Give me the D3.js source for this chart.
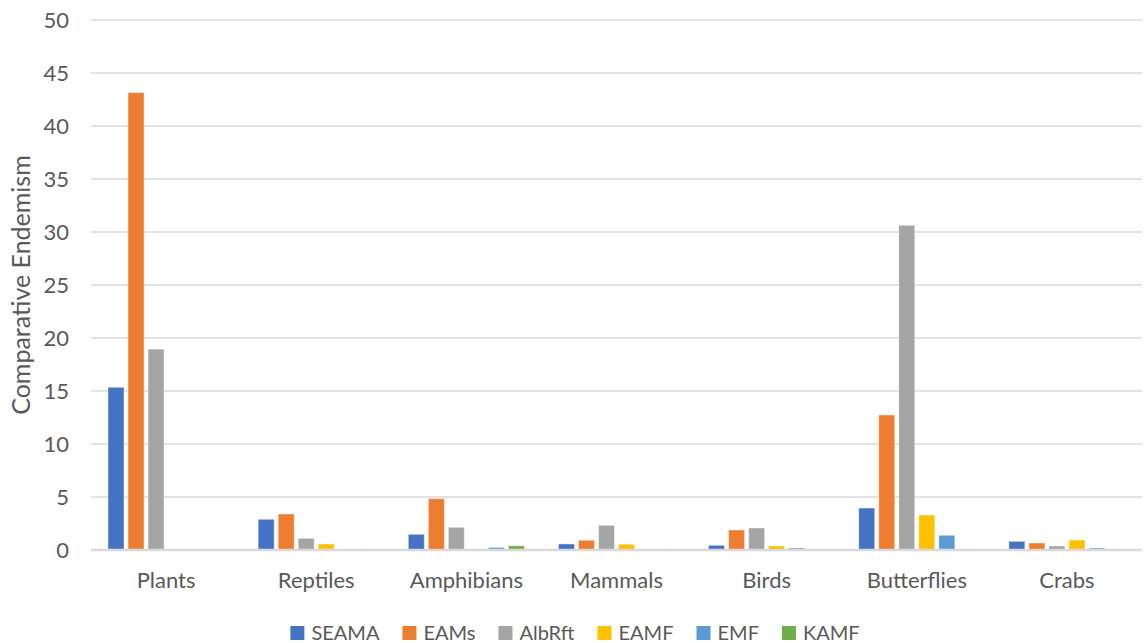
<!DOCTYPE html>
<html>
<head>
<meta charset="utf-8">
<script src="https://cdn.jsdelivr.net/npm/d3@7"></script>
<style>
  body { margin: 0; background: #fff; }
  text { font-family: Lato, "Open Sans", sans-serif; fill: #595959; }
</style>
</head>
<body>
<div id="chart"></div>
<script>
const categories = ["Plants", "Reptiles", "Amphibians", "Mammals", "Birds", "Butterflies", "Crabs"];
const seriesNames = ["SEAMA", "EAMs", "AlbRft", "EAMF", "EMF", "KAMF"];
const colors = ["#4472C4", "#ED7D31", "#A5A5A5", "#FFC000", "#5B9BD5", "#70AD47"];

// one array per series, in category order
const SEAMA  = [15.35, 2.9, 1.48, 0.57, 0.44, 3.96, 0.82];
const EAMs   = [43.15, 3.4, 4.84, 0.92, 1.89, 12.74, 0.66];
const AlbRft = [18.95, 1.1, 2.14, 2.33, 2.08, 30.63, 0.38];
const EAMF   = [0, 0.57, 0.1, 0.54, 0.38, 3.3, 0.94];
const EMF    = [0, 0, 0.25, 0, 0.19, 1.39, 0.19];
const KAMF   = [0, 0.1, 0.4, 0.1, 0, 0.1, 0.1];

const yTicks = [0, 5, 10, 15, 20, 25, 30, 35, 40, 45, 50];

const seriesValues = [SEAMA, EAMs, AlbRft, EAMF, EMF, KAMF];
const data = categories.map((c, i) => ({
  category: c,
  values: seriesNames.map((s, j) => ({ series: s, value: seriesValues[j][i], color: colors[j] }))
}));

const width = 1144;
const height = 643;
const margin = { top: 20, right: 2, bottom: 93, left: 91 };

const svg = d3.select("#chart")
  .append("svg")
  .attr("width", width)
  .attr("height", height);

const x0 = d3.scaleBand()
  .domain(categories)
  .range([margin.left, width - margin.right])
  .padding(0);

const x1 = d3.scaleBand()
  .domain(seriesNames)
  .range([15, x0.bandwidth() - 15])
  .paddingInner(0.2)
  .paddingOuter(0.1);

const y = d3.scaleLinear()
  .domain([0, 50])
  .range([height - margin.bottom, margin.top]);

// Gridlines
svg.append("g")
  .selectAll("line")
  .data(yTicks.filter(d => d !== 0))
  .join("line")
  .attr("x1", margin.left)
  .attr("x2", width - margin.right)
  .attr("y1", d => y(d))
  .attr("y2", d => y(d))
  .attr("stroke", "#d9d9d9")
  .attr("stroke-width", 1.5);

// Y axis labels
const yAxis = d3.axisLeft(y)
  .tickValues(yTicks)
  .tickSize(0)
  .tickPadding(22);

svg.append("g")
  .attr("transform", `translate(${margin.left},0)`)
  .call(yAxis)
  .call(g => g.select(".domain").remove())
  .selectAll("text")
  .style("font-size", "22px")
  .style("font-family", "Lato, 'Open Sans', sans-serif")
  .attr("fill", "#595959");

// Bars
const groups = svg.append("g")
  .selectAll("g")
  .data(data)
  .join("g")
  .attr("transform", d => `translate(${x0(d.category)},0)`);

groups.selectAll("rect")
  .data(d => d.values)
  .join("rect")
  .attr("x", d => x1(d.series))
  .attr("width", x1.bandwidth())
  .attr("y", d => y(d.value))
  .attr("height", d => y(0) - y(d.value))
  .attr("fill", d => d.color)
  .attr("stroke", "rgba(255,255,255,0.45)")
  .attr("stroke-width", 1);

// Zero line
svg.append("line")
  .attr("x1", margin.left)
  .attr("x2", width - margin.right)
  .attr("y1", y(0))
  .attr("y2", y(0))
  .attr("stroke", "#d9d9d9")
  .attr("stroke-width", 2.5);

// X axis labels
const xAxis = d3.axisBottom(x0)
  .tickSize(0)
  .tickPadding(22);

svg.append("g")
  .attr("transform", `translate(0,${y(0)})`)
  .call(xAxis)
  .call(g => g.select(".domain").remove())
  .selectAll("text")
  .style("font-size", "22px")
  .style("font-family", "Lato, 'Open Sans', sans-serif")
  .attr("fill", "#595959");

// Y axis title
svg.append("text")
  .attr("transform", `translate(30,${(y(0) + y(50)) / 2}) rotate(-90)`)
  .attr("text-anchor", "middle")
  .style("font-size", "25px")
  .text("Comparative Endemism");

// Legend
const legend = svg.append("g");
const items = legend.selectAll("g")
  .data(seriesNames)
  .join("g");

items.append("rect")
  .attr("width", 14)
  .attr("height", 14)
  .attr("y", -14)
  .attr("fill", (d, i) => colors[i]);

items.append("text")
  .attr("x", 21)
  .attr("y", 0)
  .style("font-size", "20px")
  .text(d => d);

let offset = 0;
items.each(function() {
  const w = d3.select(this).select("text").node().getComputedTextLength();
  d3.select(this).attr("transform", `translate(${offset},0)`);
  offset += 21 + w + 23;
});
const legendWidth = offset - 23;
legend.attr("transform", `translate(${575 - legendWidth / 2},640)`);
</script>
</body>
</html>
